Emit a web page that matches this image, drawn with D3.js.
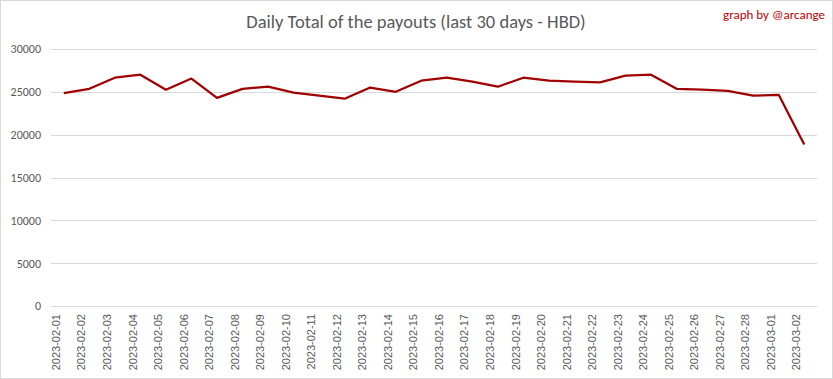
<!DOCTYPE html>
<html><head><meta charset="utf-8">
<script src="https://cdn.jsdelivr.net/npm/d3@7"></script>
<style>body{margin:0;background:#fff}svg{display:block}</style>
</head><body>
<svg id="c" width="833" height="379"></svg>
<script>
const dates = ["2023-02-01","2023-02-02","2023-02-03","2023-02-04","2023-02-05","2023-02-06","2023-02-07","2023-02-08","2023-02-09","2023-02-10","2023-02-11","2023-02-12","2023-02-13","2023-02-14","2023-02-15","2023-02-16","2023-02-17","2023-02-18","2023-02-19","2023-02-20","2023-02-21","2023-02-22","2023-02-23","2023-02-24","2023-02-25","2023-02-26","2023-02-27","2023-02-28","2023-03-01","2023-03-02"];
const payouts = [24850,25350,26650,27000,25250,26550,24300,25350,25600,24900,24550,24200,25500,25000,26300,26650,26200,25600,26650,26300,26200,26100,26900,27000,25350,25250,25100,24550,24650,18850];
const yTicks = [0,5000,10000,15000,20000,25000,30000];
const title = "Daily Total of the payouts (last 30 days - HBD)";
const credit = "graph by @arcange";

const svg = d3.select("#c");
const W = 833, H = 379;
const m = {left:51, right:16, top:49, bottom:73};
svg.append("rect").attr("x",0.5).attr("y",0.5).attr("width",W-1).attr("height",H-1)
  .attr("fill","#fff").attr("stroke","#d9d9d9");

const x = d3.scaleBand().domain(dates).range([m.left, W-m.right]);
const y = d3.scaleLinear().domain([0,30000]).range([H-m.bottom, m.top]);

const grid = svg.append("g");
grid.selectAll("line").data(yTicks).join("line")
  .attr("x1", m.left).attr("x2", W-m.right)
  .attr("y1", d=>Math.round(y(d))+0.5).attr("y2", d=>Math.round(y(d))+0.5)
  .attr("stroke","#d9d9d9").attr("stroke-width",1);

const yAxis = d3.axisLeft(y).tickValues(yTicks).tickSize(0).tickPadding(10).tickFormat(d3.format("d"));
const ya = svg.append("g").attr("transform",`translate(${m.left},0)`).call(yAxis);
ya.select(".domain").remove();
ya.selectAll("text").attr("font-family","Carlito, 'Liberation Sans', Arial, sans-serif").attr("font-size",12).attr("fill","#595959");

const xAxis = d3.axisBottom(x).tickSize(0).tickPadding(0);
const xa = svg.append("g").attr("transform",`translate(0,${H-m.bottom})`).call(xAxis);
xa.select(".domain").remove();
xa.selectAll("text").attr("font-family","'Liberation Sans', Arial, sans-serif").attr("font-size",11).attr("fill","#595959")
  .attr("text-anchor","end").attr("transform","rotate(-90)").attr("dx","-8").attr("dy","-0.35em").attr("y",0).attr("x",0);

const line = d3.line().x(d=>x(d.date)+x.bandwidth()/2).y(d=>y(d.v));
svg.append("path").datum(dates.map((d,i)=>({date:d,v:payouts[i]})))
  .attr("d",line).attr("fill","none").attr("stroke","#a00000").attr("stroke-width",2.25).attr("stroke-linejoin","round");

svg.append("text").attr("x",416).attr("y",28).attr("text-anchor","middle")
  .attr("font-family","Carlito, 'Open Sans', 'Liberation Sans', sans-serif").attr("font-size",18.5).attr("fill","#595959").text(title);
svg.append("text").attr("x",825).attr("y",19).attr("text-anchor","end")
  .attr("font-family","Carlito, 'Liberation Sans', sans-serif").attr("font-size",13).attr("fill","#c00000").text(credit);
</script>
</body></html>
